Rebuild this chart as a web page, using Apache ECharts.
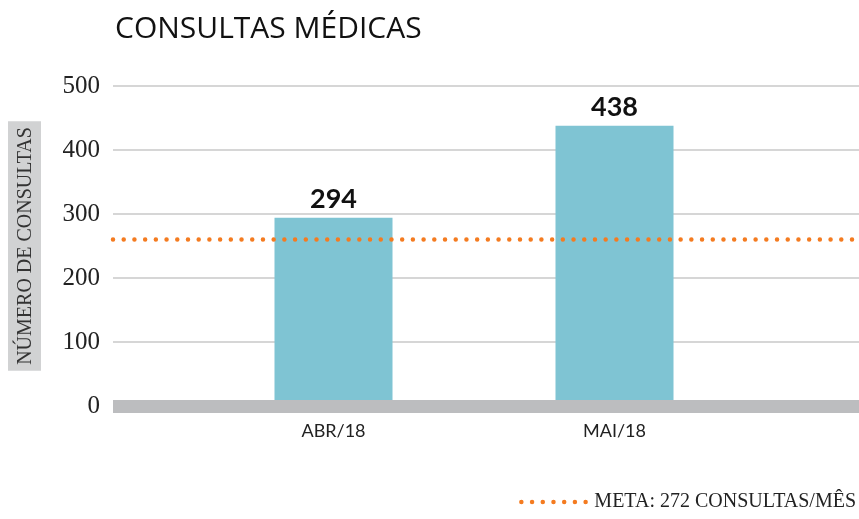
<!DOCTYPE html>
<html>
<head>
    <meta charset="utf-8"/>
    <title>Consultas médicas</title>
    <script src="https://cdn.jsdelivr.net/npm/echarts@6.0.0/dist/echarts.min.js"></script>
</head>
<body style="margin:0">
<div id="main" style="width: 859px;height:519px;"></div>
<script type="text/javascript">
    // data
    var meses = ['ABR/18', 'MAI/18'];
    var consultas = [294, 438];
    var metaValor = 260;
    var metaNome = 'META: 272 CONSULTAS/MÊS';
    var yTicks = [0, 100, 200, 300, 400, 500];

    var myChart = echarts.init(document.getElementById('main'));

    var serif = '"Liberation Serif", "DejaVu Serif", serif';
    var sans = 'Lato, "Open Sans", sans-serif';
    var laranja = '#f47b20';
    var pontilhado = { color: laranja, width: 4.5, type: [0.01, 10.7], cap: 'round' };

    var option = {
        animation: false,
        title: {
            text: 'CONSULTAS MÉDICAS',
            left: 110,
            top: 9,
            textStyle: { fontFamily: '"Open Sans", sans-serif', fontWeight: 'normal', fontSize: 30, color: '#111' }
        },
        legend: {
            right: -2,
            bottom: 2,
            itemWidth: 68,
            itemHeight: 10,
            data: [metaNome],
            itemStyle: { color: 'transparent', borderWidth: 0 },
            lineStyle: pontilhado,
            textStyle: { fontFamily: serif, fontSize: 20, color: '#222' }
        },
        grid: [
            { left: 113, right: 0, top: 86, height: 320, outerBoundsMode: 'none', containLabel: false },
            { left: 193, width: 562, top: 86, height: 320, outerBoundsMode: 'none', containLabel: false }
        ],
        xAxis: [
            {
                gridIndex: 0, type: 'value', min: 0, max: 1, z: 10,
                axisLine: { show: true, lineStyle: { color: '#bcbdbf', width: 13, cap: 'butt' } },
                axisTick: { show: false }, axisLabel: { show: false }, splitLine: { show: false }
            },
            {
                gridIndex: 1, type: 'category', data: meses,
                axisLine: { show: false }, axisTick: { show: false },
                axisLabel: { margin: 16, fontFamily: sans, fontSize: 18, color: '#222' }
            }
        ],
        yAxis: [
            {
                gridIndex: 0, type: 'value', min: yTicks[0], max: yTicks[yTicks.length - 1], interval: 100,
                name: 'NÚMERO DE CONSULTAS',
                nameLocation: 'middle',
                nameRotate: 90,
                nameGap: 72,
                nameTextStyle: {
                    fontFamily: serif, fontSize: 20, color: '#333',
                    backgroundColor: '#d1d2d3', padding: [8, 6, 5, 6]
                },
                axisLine: { show: false }, axisTick: { show: false },
                axisLabel: { margin: 13, fontFamily: serif, fontSize: 25, color: '#222' },
                splitLine: { lineStyle: { color: '#c9c9c9', width: 1.5 } }
            },
            {
                gridIndex: 1, type: 'value', min: 0, max: 500, show: false,
                splitLine: { show: false }
            }
        ],
        series: [
            {
                name: 'Consultas',
                type: 'bar',
                xAxisIndex: 1, yAxisIndex: 1,
                data: consultas,
                barWidth: 118,
                itemStyle: { color: '#7fc4d3' },
                label: {
                    show: true, position: 'top', distance: 5,
                    fontFamily: sans, fontWeight: 'bold', fontSize: 27, color: '#111'
                }
            },
            {
                name: metaNome,
                type: 'line',
                xAxisIndex: 0, yAxisIndex: 0,
                data: [[0, metaValor], [1, metaValor]],
                symbol: 'none',
                z: 5,
                itemStyle: { color: laranja },
                lineStyle: pontilhado
            }
        ]
    };

    myChart.setOption(option);
</script>
</body>
</html>
